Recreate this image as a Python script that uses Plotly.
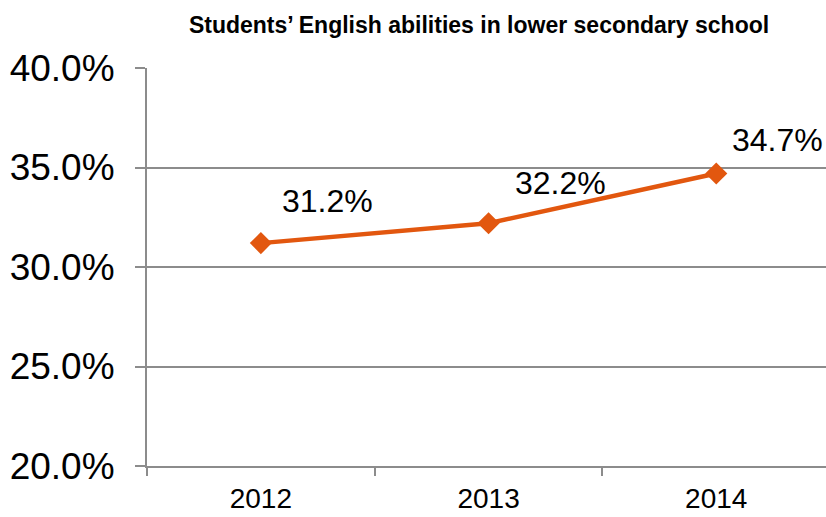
import plotly.graph_objects as go

years = ["2012", "2013", "2014"]
values = [0.312, 0.322, 0.347]
labels = ["31.2%", "32.2%", "34.7%"]
title = "Students\u2019 English abilities in lower secondary school"

# label offsets (style)
label_shift = [(67, 42), (72, 40), (61, 33)]

LINE = "#E2570F"
GRID = "#8c8c8c"

fig = go.Figure()
fig.add_trace(go.Scatter(
    x=years, y=values, mode="lines+markers",
    line=dict(color=LINE, width=4.5),
    marker=dict(symbol="diamond", size=17, color=LINE),
    hoverinfo="skip", showlegend=False, cliponaxis=False,
))

for i, (yv, lab, (dx, dy)) in enumerate(zip(values, labels, label_shift)):
    fig.add_annotation(x=i, y=yv, xref="x", yref="y", text=lab, showarrow=False,
                       xshift=dx, yshift=dy,
                       font=dict(family="Liberation Sans, Arial", size=32, color="#000"))

fig.update_layout(
    width=826, height=517,
    margin=dict(l=147, r=0, t=68, b=51, autoexpand=False),
    paper_bgcolor="white", plot_bgcolor="white",
    title=dict(text="<b>" + title + "</b>", x=479/826, xanchor="center", xref="container",
               y=1 - 25/517, yanchor="middle", yref="container",
               font=dict(family="Liberation Sans Narrow, Arial Narrow, Liberation Sans", size=23, color="#000")),
)
fig.update_xaxes(
    type="category", range=[-0.5, 2.482], automargin=False,
    showline=True, linecolor=GRID, linewidth=2,
    ticks="outside", ticklen=8, tickwidth=2, tickcolor=GRID, tickson="boundaries",
    showgrid=False, zeroline=False,
    tickfont=dict(family="Liberation Sans Narrow, Arial Narrow, Liberation Sans", size=28, color="#000"),
    ticklabelstandoff=6,
)
fig.update_yaxes(
    range=[0.20, 0.40], dtick=0.05, tickformat=".1%", automargin=False,
    showline=True, linecolor=GRID, linewidth=2,
    ticks="outside", ticklen=10, tickwidth=2, tickcolor=GRID,
    showgrid=True, gridcolor=GRID, gridwidth=2, zeroline=False,
    tickfont=dict(family="Liberation Sans, Arial", size=37, color="#000"),
    ticklabelstandoff=13,
)

fig.write_html("out.html", config={"displayModeBar": False, "staticPlot": True},
               post_script="document.body.style.margin='0';document.body.style.overflow='hidden';")
